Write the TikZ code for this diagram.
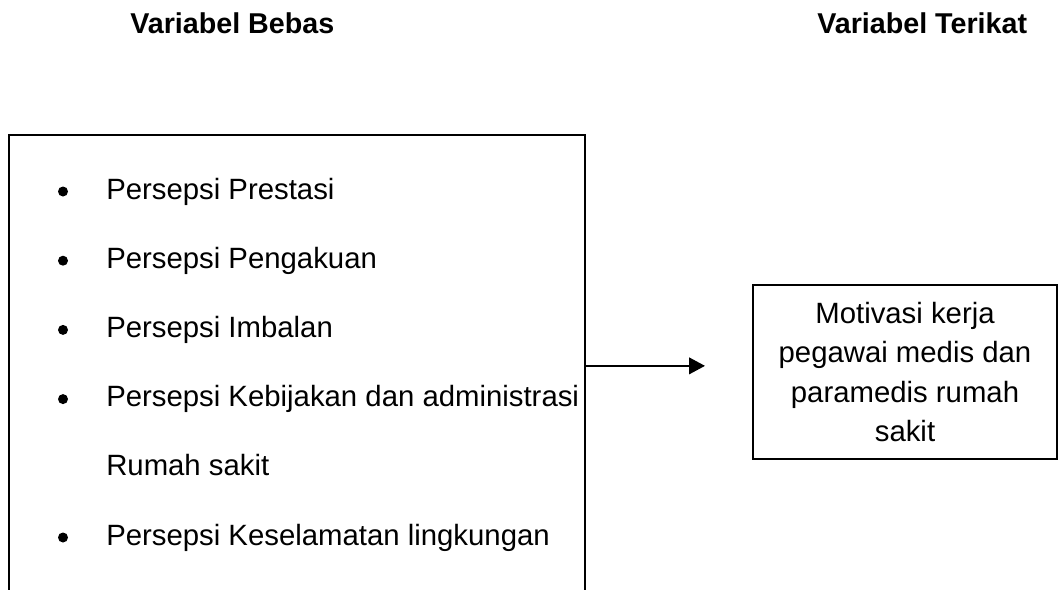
\documentclass[tikz,border=0pt]{standalone}
\usepackage{fontspec}
\setmainfont{Liberation Sans}
\usepackage{tikz}
\usetikzlibrary{arrows.meta}

\begin{document}
\begin{tikzpicture}[x=0.75pt,y=-0.75pt]
        \tikzset{kotak/.style = {draw, line width=1.3pt, inner sep=0pt}}
        \tikzset{judul/.style = {font=\fontsize{21.5}{26}\selectfont\bfseries, anchor=base west, inner sep=0pt}}
        \tikzset{butir/.style = {font=\fontsize{22}{29.3}\selectfont, anchor=base west, inner sep=0pt}}
        \tikzset{titik/.style = {circle, fill, minimum size=7.5pt, inner sep=0pt}}
        \tikzset{panah/.style = {-{Triangle[length=12pt,width=12.5pt]}, line width=1.5pt}}

        \useasboundingbox (0,0) rectangle (1060,589);

        % judul
        \node[judul] (judul-bebas) at (130,33) {Variabel Bebas};
        \node[judul] (judul-terikat) at (817,33) {Variabel Terikat};

        % kotak
        \node[kotak, anchor=north west, minimum width=432pt, minimum height=346.5pt] (bebas) at (8,134) {};
        \node[kotak, minimum width=228pt, minimum height=130.5pt, align=center,
              font=\fontsize{22}{29.3}\selectfont] (terikat) at (905,372)
              {Motivasi kerja\\pegawai medis dan\\paramedis rumah\\sakit};

        % butir
        \foreach \teks [count=\i] in {Persepsi Prestasi, Persepsi Pengakuan, Persepsi Imbalan, Persepsi Kebijakan dan administrasi}{
            \node[titik] (t\i) at (63,{199+69.2*(\i-1)-7.5}) {};
            \node[butir] (p\i) at (106,{199+69.2*(\i-1)}) {\teks};
        }
        \node[butir] (p4b) at (106,475.8) {Rumah sakit};
        \node[titik] (t5) at (63,537.5) {};
        \node[butir] (p5) at (106,545) {Persepsi Keselamatan lingkungan};

        %panah
        \coordinate (x0) at (705,0);
        \coordinate (ujung) at (bebas.east -| x0);
        \draw[panah] (bebas.east) -- (ujung);

    \end{tikzpicture}
\end{document}
